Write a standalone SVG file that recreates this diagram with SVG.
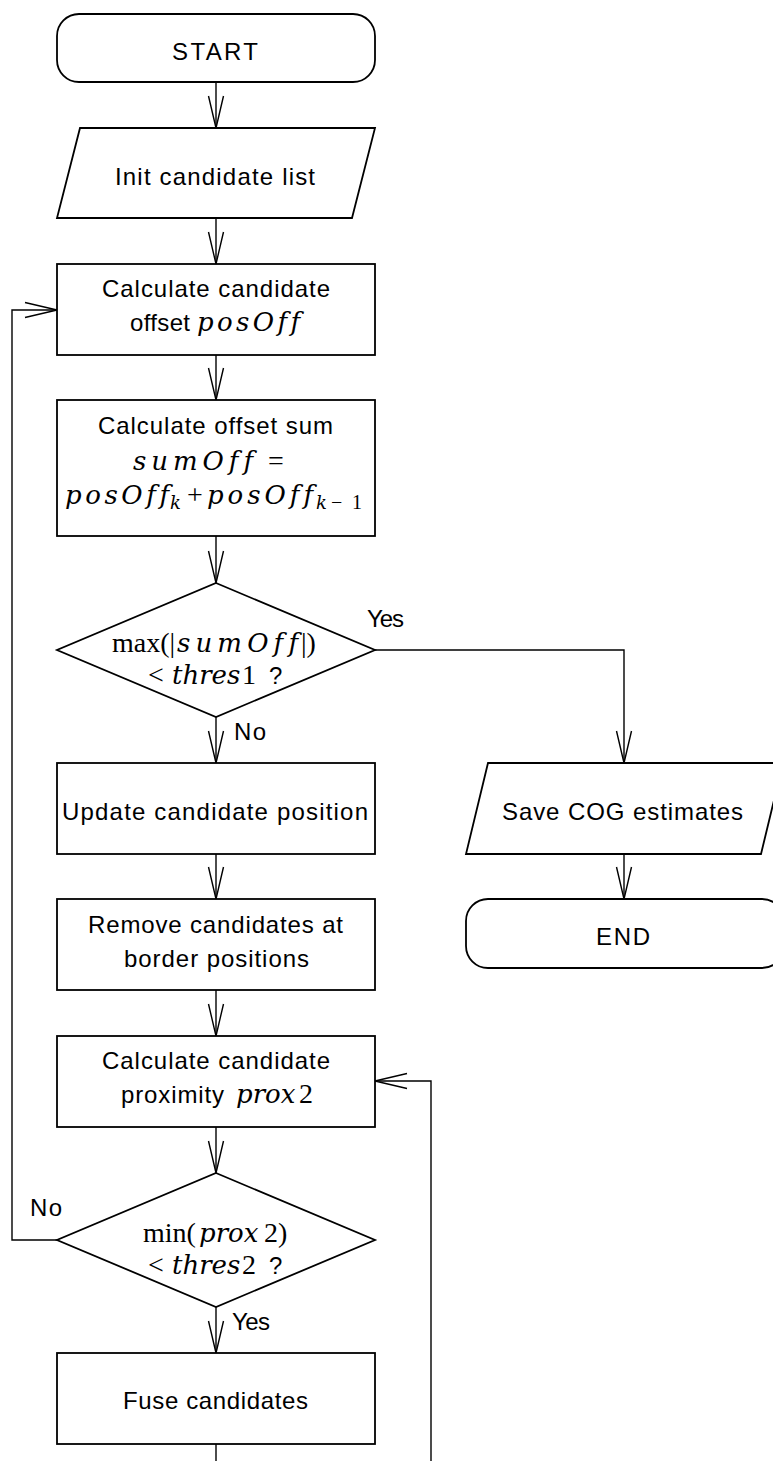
<svg xmlns="http://www.w3.org/2000/svg" width="773" height="1461" viewBox="0 0 773 1461">
  <style>
    .node { fill: #fff; stroke: #000; stroke-width: 1.8; }
    .edge { fill: none; stroke: #000; stroke-width: 1.4; }
    .s { font-family: "Liberation Sans", Arial, sans-serif; font-size: 24px; fill: #000; }
    .mi { font-family: "DejaVu Serif", "Liberation Serif", serif; font-size: 26px; font-style: italic; font-variant-ligatures: none; fill: #000; }
    .mr { font-family: "Liberation Serif", "Times New Roman", serif; font-size: 28px; fill: #000; }
    .si { font-family: "DejaVu Serif", "Liberation Serif", serif; font-size: 18px; font-style: italic; fill: #000; }
    .sr { font-family: "Liberation Serif", "Times New Roman", serif; font-size: 20px; fill: #000; }
  </style>
  <defs>
    <marker id="arrow" markerUnits="userSpaceOnUse" markerWidth="40" markerHeight="20" viewBox="-34 -10 40 20" refX="0" refY="0" orient="auto">
      <path d="M-32,-7.5 L0,0 L-32,7.5" fill="none" stroke="#000" stroke-width="1.4"/>
    </marker>
  </defs>

  <!-- connectors -->
  <g id="connectors">
    <path class="edge" d="M216,83 V128" marker-end="url(#arrow)"/>
    <path class="edge" d="M216,218 V264" marker-end="url(#arrow)"/>
    <path class="edge" d="M216,355 V400" marker-end="url(#arrow)"/>
    <path class="edge" d="M216,536 V583" marker-end="url(#arrow)"/>
    <path class="edge" d="M216,717 V763" marker-end="url(#arrow)"/>
    <path class="edge" d="M375,650 H624 V763" marker-end="url(#arrow)"/>
    <path class="edge" d="M216,854 V899" marker-end="url(#arrow)"/>
    <path class="edge" d="M624,854 V899" marker-end="url(#arrow)"/>
    <path class="edge" d="M216,990 V1036" marker-end="url(#arrow)"/>
    <path class="edge" d="M216,1127 V1173" marker-end="url(#arrow)"/>
    <path class="edge" d="M216,1307 V1353" marker-end="url(#arrow)"/>
    <path class="edge" d="M57,1240 H12 V310 H57" marker-end="url(#arrow)"/>
    <path class="edge" d="M216,1444 V1461"/>
    <path class="edge" d="M431,1461 V1081 H375" marker-end="url(#arrow)"/>
    <text class="s" x="367" y="627" textLength="37" lengthAdjust="spacing">Yes</text>
    <text class="s" x="234" y="740" textLength="32" lengthAdjust="spacing">No</text>
    <text class="s" x="30" y="1216" textLength="32" lengthAdjust="spacing">No</text>
    <text class="s" x="232" y="1330" textLength="38" lengthAdjust="spacing">Yes</text>
  </g>

  <g id="start">
    <rect class="node" x="57" y="14" width="318" height="68" rx="22"/>
    <text class="s" x="172" y="60" textLength="86" lengthAdjust="spacing">START</text>
  </g>

  <g id="init">
    <polygon class="node" points="80,128 375,128 352,218 57,218"/>
    <text class="s" x="115" y="185" textLength="200" lengthAdjust="spacing">Init candidate list</text>
  </g>

  <g id="calc-offset">
    <rect class="node" x="57" y="264" width="318" height="91"/>
    <text class="s" x="102" y="297" textLength="228" lengthAdjust="spacing">Calculate candidate</text>
    <text class="s" x="130" y="331" textLength="60" lengthAdjust="spacing">offset</text>
    <text class="mi" x="197" y="331" textLength="103" lengthAdjust="spacing">posOff</text>
  </g>

  <g id="calc-sum">
    <rect class="node" x="57" y="400" width="318" height="136"/>
    <text class="s" x="98" y="434" textLength="235" lengthAdjust="spacing">Calculate offset sum</text>
    <text class="mi" x="133" y="470" textLength="120" lengthAdjust="spacing">sumOff</text>
    <text class="mr" x="268" y="470">=</text>
    <text class="mi" x="65" y="504" textLength="104" lengthAdjust="spacing">posOff</text>
    <text class="si" x="170" y="509">k</text>
    <text class="mr" x="187" y="504">+</text>
    <text class="mi" x="207" y="504" textLength="106" lengthAdjust="spacing">posOff</text>
    <text class="si" x="316" y="509">k</text>
    <text class="sr" x="331" y="509">−</text>
    <text class="sr" x="352" y="509">1</text>
  </g>

  <g id="decision-converged">
    <polygon class="node" points="216,583 375,650 216,717 57,650"/>
    <text class="mr" x="112" y="652">max(|</text>
    <text class="mi" x="177" y="652" textLength="121" lengthAdjust="spacing">sumOff</text>
    <text class="mr" x="301" y="652">|)</text>
    <text class="mr" x="148" y="684">&lt;</text>
    <text class="mi" x="172" y="684">thres</text>
    <text class="mr" x="242" y="684">1</text>
    <text class="s" x="269" y="684">?</text>
  </g>

  <g id="update">
    <rect class="node" x="57" y="763" width="318" height="91"/>
    <text class="s" x="62" y="820" textLength="306" lengthAdjust="spacing">Update candidate position</text>
  </g>

  <g id="save">
    <polygon class="node" points="488,763 783,763 761,854 466,854"/>
    <text class="s" x="502" y="820" textLength="241" lengthAdjust="spacing">Save COG estimates</text>
  </g>

  <g id="end">
    <rect class="node" x="466" y="899" width="318" height="69" rx="22"/>
    <text class="s" x="596" y="945" textLength="54" lengthAdjust="spacing">END</text>
  </g>

  <g id="remove">
    <rect class="node" x="57" y="899" width="318" height="91"/>
    <text class="s" x="88" y="933" textLength="255" lengthAdjust="spacing">Remove candidates at</text>
    <text class="s" x="124" y="967" textLength="185" lengthAdjust="spacing">border positions</text>
  </g>

  <g id="calc-proximity">
    <rect class="node" x="57" y="1036" width="318" height="91"/>
    <text class="s" x="102" y="1069" textLength="228" lengthAdjust="spacing">Calculate candidate</text>
    <text class="s" x="121" y="1103" textLength="103" lengthAdjust="spacing">proximity</text>
    <text class="mi" x="236" y="1103">prox</text>
    <text class="mr" x="299" y="1103">2</text>
  </g>

  <g id="decision-proximity">
    <polygon class="node" points="216,1173 375,1240 216,1307 57,1240"/>
    <text class="mr" x="143" y="1242">min(</text>
    <text class="mi" x="199" y="1242">prox</text>
    <text class="mr" x="264" y="1242">2)</text>
    <text class="mr" x="148" y="1274">&lt;</text>
    <text class="mi" x="172" y="1274">thres</text>
    <text class="mr" x="242" y="1274">2</text>
    <text class="s" x="269" y="1274">?</text>
  </g>

  <g id="fuse">
    <rect class="node" x="57" y="1353" width="318" height="91"/>
    <text class="s" x="123" y="1409" textLength="185" lengthAdjust="spacing">Fuse candidates</text>
  </g>
</svg>
